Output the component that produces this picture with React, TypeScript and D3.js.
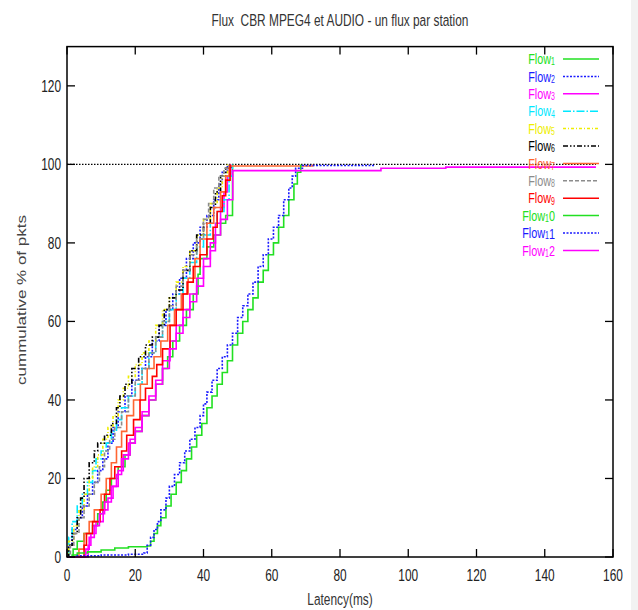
import React from "react";
import * as d3 from "d3";

const TITLE = "Flux  CBR MPEG4 et AUDIO - un flux par station";
const X_LABEL = "Latency(ms)";
const Y_LABEL = "cummulative % of pkts";
const X_TICKS = [0, 20, 40, 60, 80, 100, 120, 140, 160];
const Y_TICKS = [0, 20, 40, 60, 80, 100, 120];

type P = [number, number];

const flow1: P[] = [[0,0],[1.8,2],[3,4],[5,6],[7.5,8],[9,11],[10.5,14],[11.5,17],[13,20],[15,23],[17,26],[18.5,29],[20,32],[22,36],[24,40],[26,44],[28,48],[29.5,51],[31,55],[33,59],[35,63],[37,67],[38.4,72],[39,76],[41,79],[43,82],[45,85],[46.5,87],[48.5,100]];
const flow2: P[] = [[0,0],[0.5,3],[1.5,7],[3,10],[4.5,13],[6,16],[7.5,19],[9,22],[10.5,25],[12,29],[13.5,33],[15,37],[17,41],[19,45],[21,48],[23,51],[25,55],[27,59],[29,63],[31,67],[33,71],[35,76],[37,80],[39,84],[41,87],[43,91],[44.5,95],[45.5,98],[47,100]];
const flow3: P[] = [[0,0],[6.2,3],[7,6],[8.5,9],[10.6,12],[12,15],[13.5,18],[15,22],[16.5,26],[18.5,30],[20,33],[22,37],[24,41],[26,45],[28,50],[30.2,55],[32,59],[34,63],[36,67],[38,71],[40,76],[42,80],[43.5,85],[45,89],[46,93],[47,97],[48,100]];
const flow4: P[] = [[0,0],[0.5,5],[1.5,9],[3,13],[4.5,16],[6,19],[7.5,22],[8.5,25],[10,27],[11.5,29],[13,32],[14.5,35],[16,38],[18,41],[20,44],[22,48],[24,52],[26,56],[28,60],[30,63],[32,67],[34,71],[36,75],[38,79],[40,82],[42,85],[44,88],[46,91],[47.5,97],[48.5,100]];
const flow5: P[] = [[0,0],[0.5,4],[2,8],[3.5,12],[5,16],[6.5,20],[7.5,23],[9,26],[10.5,30],[12,33],[13.5,36],[15,40],[16.5,43],[18,46],[20,49],[22,52],[24,55],[26,59],[28,63],[30,66],[32,70],[34,74],[36,78],[38,82],[40,86],[42,90],[44,94],[45.5,97],[47,100]];
const flow6: P[] = [[0,0],[0.5,3],[1.5,6],[3,10],[4,15],[5,20],[6.5,24],[8,27],[9,29],[11,31],[13,34],[14.5,38],[15.5,41],[17,44],[19,48],[21,51],[23,54],[25,56],[27,59],[28.5,63],[30,66],[32,68],[34,73],[36,78],[38,82],[40,85],[42,89],[43.5,93],[45,97],[46.5,99],[48,100]];
const flow7: P[] = [[0,0],[3.5,2],[5,6],[6.5,9],[8,12],[10,16],[11.5,20],[13,24],[14.5,28],[16,32],[17.5,36],[19.5,40],[21.5,44],[23.5,48],[25.5,51],[27.5,55],[29.5,59],[31.5,63],[33.5,67],[35.5,71],[37.5,76],[39,81],[41,85],[43,89],[45,93],[46.5,97],[47.5,99.6],[72,100]];
const flow8: P[] = [[0,0],[1,3],[2,6],[3.5,10],[5,13],[6.5,16],[8,19],[9.5,23],[11,27],[12.5,30],[14,33],[16,37],[18,41],[20,45],[22,48],[24,52],[26,56],[28,60],[30,64],[32,69],[34,73],[36,77],[38,81],[40,86],[41.5,90],[43,94],[44.5,97],[46,99],[47.5,100]];
const flow9: P[] = [[0,0],[5,3],[5.7,6],[7.5,9],[9.7,12],[11,16],[12.6,20],[14,23],[16,27],[17.5,31],[19.5,35],[21.4,40],[23,43],[25,46],[26.3,49],[28,53],[30.2,59],[32,63],[34,67],[35.2,70],[37,74],[39,77],[41,81],[42.8,84],[44,88],[45.5,92],[46.5,96],[47.8,100]];
const flow10: P[] = [[0,0],[1.5,0.5],[3,1],[6,1.3],[10,1.8],[14,2.3],[18,2.6],[23.5,2.8],[24.5,4],[25.5,6],[26.5,8],[27.5,10],[29,13],[30.5,16],[32,19],[33.5,22],[35,25],[36.5,28],[38,31],[39.5,34],[41,38],[42.5,41],[44,44],[45.5,47],[47,50],[48.5,54],[50,57],[51.5,60],[53,63],[54.5,66],[56,70],[57.5,73],[59,77],[60.5,80],[62,84],[63.5,87],[65,91],[66.5,95],[67.5,98],[68.5,100]];
const flow11: P[] = [[0,0],[3,0.3],[10,0.5],[18,0.7],[22.5,1],[23.5,3],[24.5,5],[25.5,7],[26.5,9],[27.5,12],[29,15],[30,18],[31.5,21],[33,24],[34.5,27],[36,30],[37.5,33],[39,36],[40,39],[41,42],[42.5,45],[44,48],[45.5,51],[47,54],[48.5,57],[50,61],[51.5,64],[53,67],[54.5,70],[56,74],[57.5,77],[59,81],[60.5,84],[62,87],[63.5,91],[65,94],[66,97],[67,99],[69,99.7],[90,100]];
const flow12: P[] = [[0,0],[5.5,2],[6.5,5],[8,8],[9.5,11],[11,14],[13,18],[14.5,21],[16,25],[18,29],[20,32],[22,36],[24,40],[26,44],[28,48],[30,53],[32,57],[34,61],[36,65],[38,69],[40,74],[42,78],[43.5,82],[45,86],[47,91],[48.6,98.4],[92,99],[111,99.3],[155,99.3]];

const FLOWS = [flow1, flow2, flow3, flow4, flow5, flow6, flow7, flow8, flow9, flow10, flow11, flow12];
const SUBS = ["1", "2", "3", "4", "5", "6", "7", "8", "9", "1", "1", "1"];
const SUFFIX = ["", "", "", "", "", "", "", "", "", "0", "1", "2"];
const COLORS = ["#22e022", "#1a1aff", "#ff00ff", "#00e8ff", "#eeee00", "#000000", "#ff6633", "#8c8c8c", "#ff0000", "#22e022", "#1a1aff", "#ff00ff"];
const DASHES = ["", "2,1.5", "", "8,2,1.5,2", "3,2,1,2", "5,2,1.5,2,1.5,2", "", "4,2", "", "", "2,1.5", ""];

const W = 638, H = 610;
const L = 67, R = 613, T = 46.6, B = 557;
const SX = 0.7;
const FONT = "'Liberation Sans', Arial, sans-serif";

function CText({ x, y, anchor = "middle", size = 17, fill = "#222", children, rotate = 0 }: any) {
  return (
    <text
      transform={`translate(${x},${y}) scale(${SX},1)${rotate ? ` rotate(${rotate})` : ""}`}
      textAnchor={anchor}
      fontFamily={FONT}
      fontSize={size}
      fill={fill}
      dominantBaseline="central"
      style={{ whiteSpace: "pre" }}
    >
      {children}
    </text>
  );
}

export default function App() {
  const x = d3.scaleLinear().domain([0, 160]).range([L, R]);
  const y = d3.scaleLinear().domain([0, 130]).range([B, T]);
  const line = d3.line<P>().x(d => x(d[0])).y(d => y(d[1])).curve(d3.curveStepAfter);
  const tick = 8;
  const legX1 = 563, legX2 = 599, legTextX = 555, legY0 = 59, legDy = 17.4;

  return (
    <svg width={W} height={H} style={{ position: "absolute", left: 0, top: 0, background: "#fff" }}>
      <rect x={0} y={0} width={W} height={H} fill="#fff" />
      <rect x={631} y={0} width={7} height={H} fill="#f2f2f2" />
      <line x1={x(0)} x2={x(155)} y1={y(100)} y2={y(100)} stroke="#000" strokeWidth={1.2} strokeDasharray="1.5,1.5" />
      {FLOWS.map((f, i) => (
        <path key={i} d={line(f) || ""} fill="none" stroke={COLORS[i]} strokeWidth={1.6} strokeDasharray={DASHES[i] || undefined} />
      ))}
      <rect x={L} y={T} width={R - L} height={B - T} fill="none" stroke="#000" strokeWidth={1.5} />
      {X_TICKS.map(t => (
        <g key={"x" + t}>
          <line x1={x(t)} x2={x(t)} y1={B} y2={B - tick} stroke="#000" strokeWidth={1.3} />
          <line x1={x(t)} x2={x(t)} y1={T} y2={T + tick} stroke="#000" strokeWidth={1.3} />
          <CText x={x(t)} y={575}>{t}</CText>
        </g>
      ))}
      {Y_TICKS.map(t => (
        <g key={"y" + t}>
          <line x1={L} x2={L + tick} y1={y(t)} y2={y(t)} stroke="#000" strokeWidth={1.3} />
          <line x1={R} x2={R - tick} y1={y(t)} y2={y(t)} stroke="#000" strokeWidth={1.3} />
          <CText x={61} y={y(t)} anchor="end">{t}</CText>
        </g>
      ))}
      <CText x={340} y={20} fill="#333">{TITLE}</CText>
      <CText x={340} y={599} fill="#333">{X_LABEL}</CText>
      <CText x={22} y={300} fill="#444" rotate={-90}>{Y_LABEL}</CText>
      {FLOWS.map((_, i) => {
        const ly = legY0 + i * legDy;
        return (
          <g key={"leg" + i}>
            <text
              transform={`translate(${legTextX},${ly}) scale(${SX},1)`}
              textAnchor="end"
              fontFamily={FONT}
              fontSize={15.5}
              fill={COLORS[i]}
              dominantBaseline="central"
            >
              Flow
              <tspan fontSize={10} dy={3}>{SUBS[i]}</tspan>
              {SUFFIX[i] ? <tspan dy={-3}>{SUFFIX[i]}</tspan> : null}
            </text>
            <line x1={legX1} x2={legX2} y1={ly} y2={ly} stroke={COLORS[i]} strokeWidth={1.5} strokeDasharray={DASHES[i] || undefined} />
          </g>
        );
      })}
    </svg>
  );
}
